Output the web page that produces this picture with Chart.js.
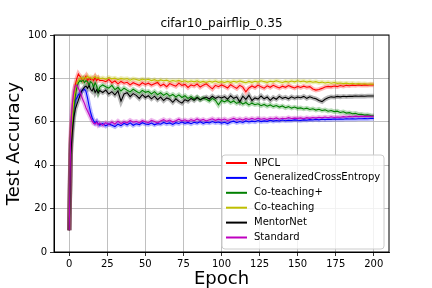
<!DOCTYPE html>
<html>
<head>
<meta charset="utf-8">
<script src="https://cdn.jsdelivr.net/npm/chart.js@4.4.0/dist/chart.umd.min.js"></script>
<style>
  html, body { margin: 0; padding: 0; background: #fff; }
  #wrap { width: 432px; height: 288px; }
</style>
</head>
<body>
<div id="wrap"><canvas id="chart" width="432" height="288"></canvas></div>
<script>
// epochs: every epoch up to 20, then every 2nd epoch
const epochs = [];
for (let e = 0; e <= 20; e++) epochs.push(e);
for (let e = 22; e <= 200; e += 2) epochs.push(e);

const xTicks = [0, 25, 50, 75, 100, 125, 150, 175, 200];

const seriesNames = ['NPCL', 'GeneralizedCrossEntropy', 'Co-teaching+', 'Co-teaching', 'MentorNet', 'Standard'];
const seriesColors = ['#ff0000', '#0000ff', '#008000', '#bfbf00', '#000000', '#bf00bf'];

const npcl = [
  10, 52, 62, 70, 77, 80, 82, 81, 80, 79, 80, 81, 79, 80, 79.5, 80, 79, 80.5, 79, 80, 79,
  79, 78.5, 79.5, 78, 78.8, 77.5, 78.6, 77.8, 78.2, 77, 78, 77.4, 76.8, 78, 77.2,
  77.8, 76.9, 77.5, 78.1, 76.6, 77.3, 76.2, 77.6, 77, 76.4, 77.8, 76.8, 77.2, 75.8, 77, 76.5, 77.4, 76, 76.9, 77.5, 76.3, 75.2, 76.8, 76.2, 77,
  76.4, 75.6, 77.1, 76.2, 75.4, 76.8, 76, 73.8, 75.6, 76.5, 75.8, 76.9, 76.1, 75.5, 76.6, 75.9, 76.8, 76.2, 75.6, 76.4, 75.9, 76.7, 76.1, 75.6, 76.3,
  75.8, 76.4, 75.9, 76.2, 75.1, 74.6, 74.9, 75.4, 76, 76.3, 76.1, 76.5, 76.2, 76.7, 76.4, 76.8, 76.6, 76.9, 76.7, 77, 76.8, 77, 76.9, 77.1, 77
];
const gce = [
  10, 50, 60, 66, 70, 71, 72.5, 73, 74, 74.5, 75, 74, 71, 67.5, 64.5, 62, 60.5, 59.5, 60.2, 59, 58.5,
  59.2, 58.1, 59, 58.4, 57.8, 58.9, 58.2, 59.3, 58.6, 59.5, 58.4, 59.1, 58.7, 59.6, 59,
  58.8, 59.4, 58.6, 59.2, 58.9, 59.7, 59.1, 59.5, 58.8, 59.6, 59.2, 59.9, 59.3, 59.7, 59.1, 59.8, 59.4, 60, 59.3, 59.8, 59.5, 60.1, 59.6, 59.9, 59.4,
  59.8, 59.2, 59.9, 60.3, 59.6, 60.1, 59.7, 60.4, 59.9, 60.3, 60, 60.6, 60.1, 60.4, 60.2, 60.7, 60.3, 60.6, 60.4, 60.8, 60.5, 60.7, 60.6, 60.9, 60.7,
  60.6, 60.9, 60.7, 61, 60.8, 61.1, 60.9, 61.2, 61, 61.2, 61.1, 61.3, 61.2, 61.3, 61.2, 61.4, 61.3, 61.4, 61.3, 61.4, 61.4, 61.5, 61.4, 61.5, 61.5
];
const coteachingPlus = [
  10, 48, 58, 66, 72, 76, 78, 79, 78.5, 79.5, 78, 79, 78.4, 77, 78.5, 77.8, 76, 78, 76.5, 74, 76,
  77, 76.2, 75.5, 76.8, 74.8, 75.9, 74.2, 75.5, 74.6, 73.8, 75, 74.1, 73.2, 74.5, 73.6,
  74, 72.8, 73.9, 72.5, 73.4, 72.2, 73.1, 71.8, 72.6, 71.5, 72.4, 71.2, 72, 70.8, 71.6, 70.5, 71.4, 70.2, 71, 70.4, 69.6, 70.8, 69.9, 67.8, 69.8,
  69.2, 70, 68.9, 69.6, 68.5, 69.3, 68.2, 68.9, 67.8, 68.6, 67.9, 68.3, 67.4, 68, 67.2, 67.8, 67, 67.5, 66.8, 67.3, 66.5, 67, 66.3, 66.8, 66.2,
  66.4, 65.9, 66.3, 65.7, 66, 65.4, 65.8, 65.2, 65.5, 64.9, 65.2, 64.7, 64.9, 64.3, 64.6, 64, 64.2, 63.7, 63.9, 63.4, 63.5, 63.1, 63.2, 62.9, 62.8
];
const coteaching = [
  10, 50, 62, 70, 75, 78, 79, 80, 80.5, 79.5, 80.5, 80, 81, 80.2, 80.6, 79.8, 80.4, 80.9, 80, 80.5, 79.8,
  80.2, 79.6, 80.4, 79.8, 80.1, 79.4, 80, 79.6, 79.9, 79.2, 79.8, 79.5, 79.1, 79.7, 79.3,
  79.6, 79, 79.4, 78.8, 79.3, 78.9, 79.2, 78.6, 79, 78.7, 79.1, 78.5, 78.9, 78.3, 78.8, 78.4, 78.9, 78.2, 78.6, 78.1, 78.7, 78.3, 78.8, 78.2, 78.5,
  78.1, 78.6, 78.2, 78.7, 78.3, 78.8, 78.4, 78, 78.6, 78.2, 78.7, 78.3, 78.9, 78.5, 78.2, 78.7, 78.4, 78.9, 78.5, 78.1, 78.6, 78.3, 78.8, 78.4, 78.9,
  78.5, 78.8, 78.3, 78.6, 78.2, 78.5, 78, 78.3, 77.9, 78.2, 77.8, 78.1, 77.7, 77.9, 77.6, 77.8, 77.5, 77.7, 77.4, 77.6, 77.4, 77.5, 77.3, 77.4, 77.3
];
const mentornet = [
  10, 45, 55, 62, 66, 68, 70, 72, 74, 75, 76, 76.5, 75.4, 76.8, 75, 74.2, 75.6, 73.5, 74.8, 73.2, 74.4,
  73.5, 74.6, 72.8, 73.9, 72.4, 74.2, 69.5, 72.8, 73.4, 71.6, 73, 72.2, 70.8, 72.5, 71.2,
  72, 70.6, 71.8, 70.2, 71.4, 69.8, 71, 70.4, 69, 70.6, 69.4, 68.6, 70.2, 69.5, 70.8, 69.9, 71.2, 70.1, 70.9, 71.4, 70.5, 71.8, 70.8, 71.5, 71,
  71.6, 70.4, 72, 70.8, 71.5, 69.2, 71.8, 70.3, 72.2, 69.8, 71, 70.5, 71.9, 70.6, 71.4, 69.9, 71.2, 70.4, 71.7, 70.8, 71.3, 70.6, 71.5, 70.9, 71.4,
  71.1, 71.7, 70.8, 71.5, 71, 70.6, 69.8, 69.3, 70.4, 71.1, 71.5, 71.3, 71.7, 71.5, 71.8, 71.6, 71.8, 71.7, 71.9, 71.8, 71.9, 71.8, 71.9, 71.9, 71.9
];
const standard = [
  10, 55, 68, 74, 76.5, 77, 75.5, 74, 72, 70, 68.5, 66.5, 65, 63.5, 62, 60.5, 59.3, 59, 59.8, 58.6, 59.4,
  58.4, 59.6, 58.8, 59.9, 59, 60.3, 59.2, 60, 59.5, 60.6, 59.8, 60.2, 59.5, 60.5, 60,
  59.6, 60.7, 60.1, 59.5, 60.4, 61, 60.2, 60.8, 59.9, 60.5, 61.2, 60.4, 60.9, 60.2, 61, 60.5, 61.3, 60.6, 61.1, 60.4, 60.9, 61.4, 60.7, 61.2, 60.8,
  61.3, 60.6, 61.1, 61.6, 60.9, 61.4, 60.8, 61.5, 61, 61.6, 61.1, 61.7, 61.2, 61.5, 61, 61.6, 61.3, 61.8, 61.2, 61.6, 61.4, 61.9, 61.5, 61.7, 61.6,
  61.8, 61.4, 61.9, 61.6, 62, 61.7, 62.1, 61.8, 62.2, 61.9, 62.3, 62, 62.2, 62.1, 62.4, 62.2, 62.5, 62.3, 62.6, 62.4, 62.6, 62.5, 62.6, 62.5, 62.5
];

const allSeries = [npcl, gce, coteachingPlus, coteaching, mentornet, standard];

function hexToRgba(hex, a) {
  const n = parseInt(hex.slice(1), 16);
  return `rgba(${(n >> 16) & 255}, ${(n >> 8) & 255}, ${n & 255}, ${a})`;
}

const datasets = [];
allSeries.forEach((vals, i) => {
  const pts = epochs.map((e, j) => ({ x: e, y: vals[j] }));
  // the thin line itself
  datasets.push({
    label: seriesNames[i],
    data: pts,
    borderColor: seriesColors[i],
    borderWidth: 1.1,
    pointRadius: 0,
    tension: 0,
    order: 6 - i
  });
  // shaded spread round the line
  datasets.push({
    label: seriesNames[i] + '_band',
    data: pts,
    borderColor: hexToRgba(seriesColors[i], 0.28),
    borderWidth: 4.5,
    pointRadius: 0,
    tension: 0,
    order: 20
  });
});

const font = 'DejaVu Sans';

// top and right spines
const framePlugin = {
  id: 'frame',
  afterDraw(chart) {
    const { ctx, chartArea: a } = chart;
    ctx.save();
    ctx.strokeStyle = '#000';
    ctx.lineWidth = 1;
    ctx.strokeRect(a.left, a.top, a.right - a.left, a.bottom - a.top);
    ctx.restore();
  }
};

// matplotlib style legend in the lower right
const legendPlugin = {
  id: 'boxLegend',
  afterDraw(chart) {
    const { ctx, chartArea: a } = chart;
    const w = 162, h = 94;
    const x0 = a.right - 5 - w, y0 = a.bottom - 3 - h;
    ctx.save();
    ctx.beginPath();
    ctx.roundRect(x0, y0, w, h, 3);
    ctx.fillStyle = 'rgba(255,255,255,0.8)';
    ctx.fill();
    ctx.strokeStyle = '#cccccc';
    ctx.lineWidth = 1;
    ctx.stroke();
    ctx.font = '10px "' + font + '"';
    ctx.textBaseline = 'middle';
    ctx.fillStyle = '#000';
    seriesNames.forEach((name, i) => {
      const y = y0 + 8 + i * 14.9;
      ctx.beginPath();
      ctx.moveTo(x0 + 4, y);
      ctx.lineTo(x0 + 25, y);
      ctx.strokeStyle = seriesColors[i];
      ctx.lineWidth = 2;
      ctx.stroke();
      ctx.fillText(name, x0 + 32, y);
    });
    ctx.restore();
  }
};

new Chart(document.getElementById('chart'), {
  type: 'line',
  data: { datasets },
  plugins: [framePlugin, legendPlugin],
  options: {
    responsive: false,
    animation: false,
    layout: { padding: { left: 0, right: 43, top: 0, bottom: 0 } },
    plugins: {
      legend: { display: false },
      tooltip: { enabled: false },
      title: {
        display: true,
        text: 'cifar10_pairflip_0.35',
        fullSize: false,
        color: '#000',
        font: { family: font, size: 12, weight: 'normal', lineHeight: 1.2 },
        padding: { top: 17, bottom: 3.6 }
      }
    },
    scales: {
      x: {
        type: 'linear',
        min: -10,
        max: 210,
        afterBuildTicks(scale) { scale.ticks = xTicks.map(v => ({ value: v })); },
        afterFit(scale) { scale.height = 36; },
        ticks: { color: '#000', font: { family: font, size: 10 }, padding: 2, maxRotation: 0 },
        grid: { color: '#b0b0b0', lineWidth: 0.8, tickColor: '#000', tickLength: 4 },
        border: { color: '#000', width: 1 },
        title: {
          display: true,
          text: 'Epoch',
          color: '#000',
          font: { family: font, size: 18, lineHeight: 1 },
          padding: { top: 0, bottom: 0 }
        }
      },
      y: {
        min: 0,
        max: 100,
        afterFit(scale) { scale.width = 54; },
        ticks: { stepSize: 20, color: '#000', font: { family: font, size: 10 }, padding: 3 },
        grid: { color: '#b0b0b0', lineWidth: 0.8, tickColor: '#000', tickLength: 4 },
        border: { color: '#000', width: 1 },
        title: {
          display: true,
          text: 'Test Accuracy',
          color: '#000',
          font: { family: font, size: 18, lineHeight: 1 },
          padding: { top: 5, bottom: 0 }
        }
      }
    }
  }
});
</script>
</body>
</html>
